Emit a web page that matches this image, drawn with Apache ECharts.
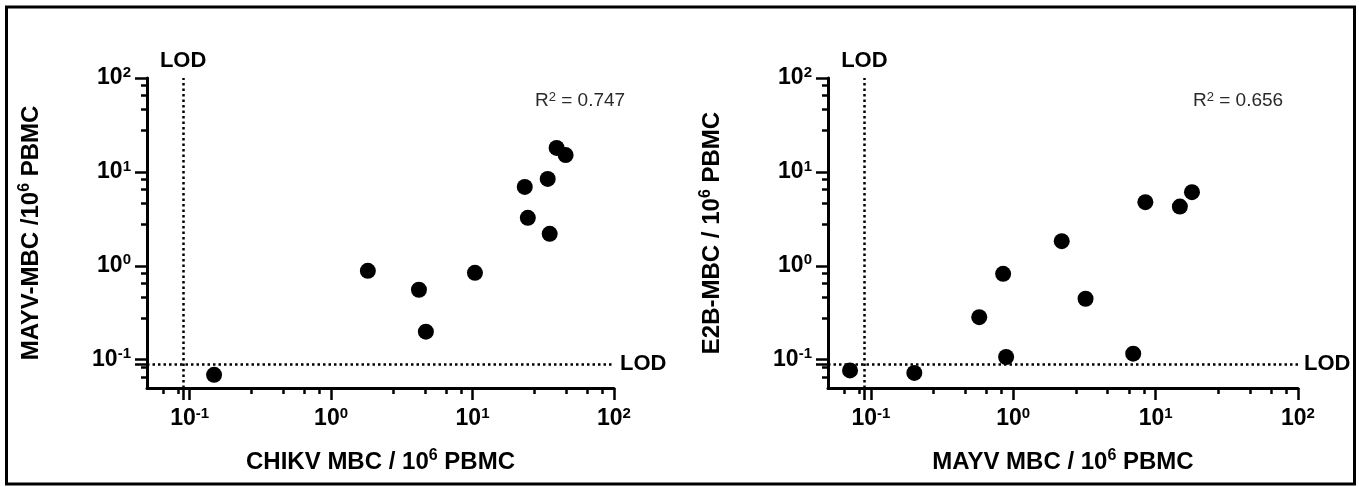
<!DOCTYPE html>
<html><head><meta charset="utf-8">
<script src="https://cdn.jsdelivr.net/npm/echarts@6/dist/echarts.min.js"></script>
<style>html,body{margin:0;padding:0;background:#fff}#c{width:1359px;height:487px}</style>
</head><body><div id="c"></div>
<script>
// ---- data ----
const chikvX   = [0.149, 1.82, 4.18, 4.68, 10.4, 23.4, 24.6, 34.0, 35.1, 39.3, 45.5];
const mayvY    = [0.069, 0.885, 0.556, 0.199, 0.843, 6.92, 3.24, 8.43, 2.19, 18.0, 15.1];
const mayvX    = [0.0714, 0.202, 0.577, 0.849, 0.891, 2.19, 3.22, 6.96, 8.47, 14.8, 18.0];
const e2bY     = [0.0769, 0.0723, 0.284, 0.822, 0.107, 1.83, 0.446, 0.116, 4.76, 4.27, 6.08];
const axisMin = 0.05, axisMax = 100;
const lodValue = 0.09;
const majorTicks = [0.1, 1, 10, 100];
const minorTicks = [0.065, 0.083, 0.275, 0.46, 0.65, 0.83, 2.75, 4.6, 6.5, 8.3, 27.5, 46, 65, 83];
const r2Left = '0.747', r2Right = '0.656';
const leftXName = ['CHIKV MBC / 10', '6', ' PBMC'];
const leftYName = ['MAYV-MBC /10', '6', ' PBMC'];
const rightXName = ['MAYV MBC / 10', '6', ' PBMC'];
const rightYName = ['E2B-MBC / 10', '6', ' PBMC'];

const FF = '"Liberation Sans", Arial, Helvetica, sans-serif';
const chart = echarts.init(document.getElementById('c'), null, {renderer: 'canvas'});

const tickRich = {
  b: {fontSize: 23, fontWeight: 'bold', fontFamily: FF, color: '#000'},
  s: {fontSize: 15, fontWeight: 'bold', fontFamily: FF, color: '#000', padding: [0, 0, 11, 0]}
};
const nameRich = {
  a: {fontSize: 24, fontWeight: 'bold', fontFamily: FF, color: '#000'},
  s: {fontSize: 16, fontWeight: 'bold', fontFamily: FF, color: '#000', padding: [0, 0, 12, 0]}
};
function powLabel(v) {
  const e = Math.round(Math.log10(v));
  return '{b|10}{s|' + e + '}';
}
function nameStr(p) { return '{a|' + p[0] + '}{s|' + p[1] + '}{a|' + p[2] + '}'; }

function mainAxis(grid, dim, name) {
  const isX = dim === 'x';
  return {
    type: 'log', logBase: 10, min: axisMin, max: axisMax, gridIndex: grid,
    axisLine: {show: true, lineStyle: {color: '#000', width: 3}},
    axisTick: {show: true, customValues: [lodValue].concat(majorTicks), length: 12,
      lineStyle: {color: '#000', width: 2.5}},
    minorTick: {show: false},
    axisLabel: {show: true, customValues: majorTicks, formatter: powLabel, rich: tickRich,
      fontSize: 23, fontWeight: 'bold', fontFamily: FF, color: '#000',
      margin: isX ? 18 : 16},
    splitLine: {show: false},
    name: nameStr(name), nameLocation: 'middle', nameGap: isX ? 60 : 102,
    nameRotate: isX ? 0 : 90,
    nameTextStyle: {rich: nameRich, fontSize: 24, fontWeight: 'bold', fontFamily: FF, color: '#000'}
  };
}
function minorAxis(grid) {
  return {
    type: 'log', logBase: 10, min: axisMin, max: axisMax, gridIndex: grid,
    axisLine: {show: false},
    axisTick: {show: true, customValues: minorTicks, length: 6,
      lineStyle: {color: '#000', width: 2.5}},
    axisLabel: {show: false},
    splitLine: {show: false}
  };
}
function zip(a, b) { return a.map((v, i) => [v, b[i]]); }
const lodLabel = {fontSize: 22, fontWeight: 'bold', fontFamily: FF, color: '#000', formatter: 'LOD'};
function lodMark() {
  return {
    silent: true, symbol: ['none', 'none'], animation: false,
    lineStyle: {color: '#000', type: [2.5, 3], width: 2.5, opacity: 1},
    data: [
      {xAxis: lodValue, label: Object.assign({position: 'end', distance: 6}, lodLabel)},
      {yAxis: lodValue, label: Object.assign({position: 'end', distance: 6}, lodLabel)}
    ]
  };
}

const gridL = {left: 147, top: 78, width: 467, height: 310};
const gridR = {left: 828, top: 78, width: 470, height: 310};

chart.setOption({
  animation: false,
  backgroundColor: '#fff',
  grid: [gridL, gridR, Object.assign({}, gridL), Object.assign({}, gridR)],
  xAxis: [mainAxis(0, 'x', leftXName), mainAxis(1, 'x', rightXName), minorAxis(2), minorAxis(3)],
  yAxis: [mainAxis(0, 'y', leftYName), mainAxis(1, 'y', rightYName), minorAxis(2), minorAxis(3)],
  series: [
    {type: 'scatter', xAxisIndex: 0, yAxisIndex: 0, data: zip(chikvX, mayvY),
      symbol: 'circle', symbolSize: 16, itemStyle: {color: '#000', opacity: 1},
      markLine: lodMark(), clip: false},
    {type: 'scatter', xAxisIndex: 1, yAxisIndex: 1, data: zip(mayvX, e2bY),
      symbol: 'circle', symbolSize: 16, itemStyle: {color: '#000', opacity: 1},
      markLine: lodMark(), clip: false}
  ],
  graphic: [
    {type: 'rect', shape: {x: 6.5, y: 7, width: 1348, height: 477}, silent: true,
      style: {fill: 'none', stroke: '#000', lineWidth: 3}},
    {type: 'text', x: 535, y: 101, silent: true,
      style: {text: '{r|R}{s|2}{r| = ' + r2Left + '}', verticalAlign: 'middle', align: 'left',
        rich: {r: {fontSize: 19, fontFamily: FF, fill: '#2a2a2a'},
               s: {fontSize: 13, fontFamily: FF, fill: '#2a2a2a', padding: [0, 0, 8, 0]}}}},
    {type: 'text', x: 1193, y: 101, silent: true,
      style: {text: '{r|R}{s|2}{r| = ' + r2Right + '}', verticalAlign: 'middle', align: 'left',
        rich: {r: {fontSize: 19, fontFamily: FF, fill: '#2a2a2a'},
               s: {fontSize: 13, fontFamily: FF, fill: '#2a2a2a', padding: [0, 0, 8, 0]}}}}
  ]
});
</script></body></html>
